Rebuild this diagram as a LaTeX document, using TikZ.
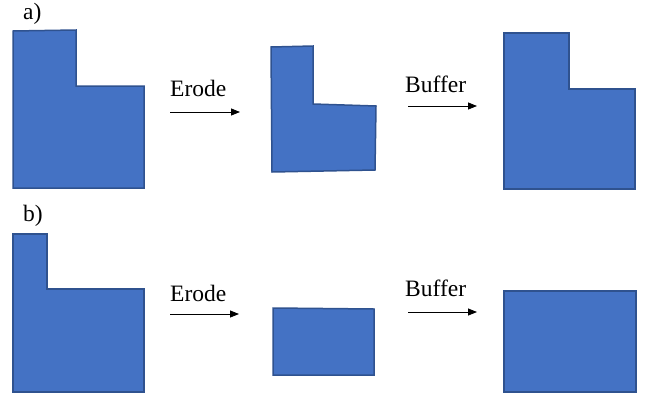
\documentclass[tikz,border=0pt]{standalone}
\usepackage{fontspec}
\setmainfont{Liberation Serif}
\usetikzlibrary{arrows.meta}
\definecolor{shapefill}{HTML}{4472C4}
\definecolor{shapeedge}{HTML}{2F528F}
\begin{document}
\begin{tikzpicture}[x=1pt,y=-1pt,
  poly/.style={fill=shapefill,draw=shapeedge,line width=1.5pt,line join=miter},
  lbl/.style={font=\fontsize{23.5}{28}\selectfont,inner sep=0pt,anchor=base west},
  tag/.style={font=\fontsize{23.5}{28}\selectfont,inner sep=0pt,anchor=base west},
  op/.style={-{Triangle[length=9pt,width=7pt]},line width=0.8pt}]
\useasboundingbox (0,0) rectangle (645,394);

% row a: original, eroded, buffered
\node[tag] (ta) at (23,19) {a)};
\draw[poly] (13,31) -- (76,30) -- (76,86) -- (144,86) -- (144,188) -- (13,188) -- cycle;
\draw[poly] (271,47) -- (313,46) -- (313,104) -- (376,106) -- (375,170) -- (272,172) -- cycle;
\draw[poly] (504,33) -- (569,33) -- (569,89) -- (635,89) -- (635,189) -- (504,189) -- cycle;

\node[lbl] (ea) at (170,96) {Erode};
\coordinate (ea1) at (170,112);
\coordinate (ea2) at (240,112);
\draw[op] (ea1) -- (ea2);

\node[lbl] (ba) at (405,92) {Buffer};
\coordinate (ba1) at (408,106);
\coordinate (ba2) at (477,106);
\draw[op] (ba1) -- (ba2);

% row b: original, eroded, buffered
\node[tag] (tb) at (23,221) {b)};
\draw[poly] (13,234) -- (47,234) -- (47,289) -- (144,289) -- (144,392) -- (13,392) -- cycle;
\draw[poly] (273,308) -- (374,309) -- (374,375) -- (273,375) -- cycle;
\draw[poly] (504,291) -- (636,291) -- (636,392) -- (504,392) -- cycle;

\node[lbl] (eb) at (170,301) {Erode};
\coordinate (eb1) at (170,314);
\coordinate (eb2) at (239,314);
\draw[op] (eb1) -- (eb2);

\node[lbl] (bb) at (405,296) {Buffer};
\coordinate (bb1) at (408,312);
\coordinate (bb2) at (477,312);
\draw[op] (bb1) -- (bb2);
\end{tikzpicture}
\end{document}
